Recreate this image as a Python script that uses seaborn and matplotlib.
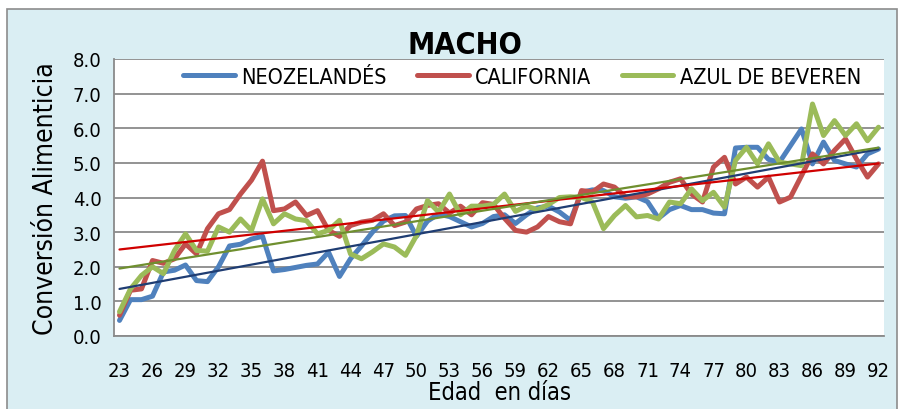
import numpy as np
import pandas as pd
import matplotlib
matplotlib.use("Agg")
import matplotlib.pyplot as plt
import seaborn as sns
from matplotlib.patches import Rectangle
from matplotlib.lines import Line2D
from matplotlib.ticker import FormatStrFormatter

sns.set_style("white")
plt.rcParams['font.family'] = ['Liberation Sans Narrow', 'DejaVu Sans']
plt.rcParams['font.stretch'] = 'condensed'
plt.rcParams['text.color'] = 'black'
plt.rcParams['axes.labelcolor'] = 'black'
plt.rcParams['xtick.color'] = 'black'
plt.rcParams['ytick.color'] = 'black'

# data (conversion per day of age)
days = list(range(23, 93))
neozelandes = [0.45, 1.05, 1.05, 1.15, 1.85, 1.9, 2.05, 1.6, 1.57, 2.0,
               2.6, 2.65, 2.8, 2.88, 1.88, 1.92, 1.98, 2.04, 2.08, 2.42,
               1.72, 2.23, 2.6, 3.0, 3.32, 3.47, 3.48, 2.88, 3.32, 3.52,
               3.45, 3.3, 3.15, 3.25, 3.45, 3.5, 3.25, 3.5, 3.7, 3.75,
               3.58, 3.34, 4.15, 4.22, 4.2, 4.02, 3.98, 4.02, 3.88, 3.4,
               3.65, 3.77, 3.65, 3.65, 3.55, 3.53, 5.43, 5.45, 5.45, 5.1,
               5.02, 5.5, 5.98, 4.97, 5.6, 5.07, 4.97, 4.88, 5.26, 5.4]
california = [0.6, 1.32, 1.36, 2.18, 2.1, 2.23, 2.66, 2.37, 3.1, 3.53,
              3.65, 4.1, 4.5, 5.05, 3.62, 3.67, 3.87, 3.48, 3.62, 3.05,
              2.88, 3.19, 3.29, 3.34, 3.53, 3.19, 3.29, 3.67, 3.77, 3.82,
              3.55, 3.75, 3.5, 3.85, 3.8, 3.4, 3.05, 3.0, 3.15, 3.45,
              3.3, 3.24, 4.2, 4.16, 4.39, 4.3, 4.02, 4.02, 4.1, 4.25,
              4.44, 4.54, 4.1, 3.87, 4.88, 5.16, 4.39, 4.59, 4.3, 4.59,
              3.87, 4.01, 4.63, 5.26, 4.97, 5.36, 5.69, 5.11, 4.59, 4.97]
azul = [0.7, 1.36, 1.75, 2.0, 1.8, 2.47, 2.95, 2.47, 2.45, 3.15,
        3.0, 3.38, 3.05, 3.96, 3.24, 3.53, 3.38, 3.33, 2.95, 3.05,
        3.34, 2.37, 2.23, 2.43, 2.66, 2.57, 2.33, 2.9, 3.91, 3.58,
        4.1, 3.5, 3.75, 3.75, 3.8, 4.1, 3.6, 3.75, 3.65, 3.8,
        4.0, 4.02, 4.0, 3.87, 3.1, 3.48, 3.77, 3.44, 3.48, 3.38,
        3.87, 3.82, 4.25, 3.91, 4.15, 3.72, 5.07, 5.45, 4.97, 5.55,
        5.02, 4.97, 4.92, 6.7, 5.79, 6.22, 5.79, 6.13, 5.64, 6.03]

names = ['NEOZELANDÉS', 'CALIFORNIA', 'AZUL DE BEVEREN']
colors = ['#4f81bd', '#c0504d', '#9bbb59']
trend_colors = ['#1f3d73', '#d00000', '#6f8f2f']

data = pd.DataFrame({'dia': days, names[0]: neozelandes,
                     names[1]: california, names[2]: azul})
long = data.melt(id_vars='dia', var_name='raza', value_name='valor')

fig = plt.figure(figsize=(9, 4.1), dpi=100, facecolor='white')
fig.patches.append(Rectangle((7 / 900, -0.05), 890 / 900, 1 - 10 / 410 + 0.05,
                             transform=fig.transFigure, facecolor='#daeef3',
                             edgecolor='#8c8c8c', lw=1.2, zorder=-10))
ax = fig.add_axes([114 / 900, 1 - 337 / 410, 770 / 900, 277 / 410])
ax.set_zorder(5)
ax.set_facecolor('white')

sns.lineplot(data=long, x='dia', y='valor', hue='raza', hue_order=names,
             palette=colors, lw=3.6, ax=ax, legend=False)

# linear trend lines
for vals, c in zip([neozelandes, california, azul], trend_colors):
    sns.regplot(x=days, y=vals, scatter=False, ci=None, truncate=True,
                color=c, line_kws=dict(lw=1.6), ax=ax)

ax.set_xlim(22.5, 92.5)
ax.set_ylim(0, 8)
ax.set_yticks(range(0, 9))
ax.yaxis.set_major_formatter(FormatStrFormatter('%.1f'))
ax.set_xticks(days[::3])
ax.set_xticks(np.arange(22.5, 93, 1), minor=True)
ax.tick_params(axis='x', which='major', length=0, pad=18, labelsize=14.5)
ax.tick_params(axis='x', which='minor', length=5, color='#8a8a8a', width=1)
ax.tick_params(axis='y', length=5, color='#8a8a8a', width=1, pad=4, labelsize=14.5)

ax.yaxis.grid(True, color='#8a8a8a', lw=1.3)
ax.set_axisbelow(True)
for s in ['top', 'right']:
    ax.spines[s].set_visible(False)
for s in ['left', 'bottom']:
    ax.spines[s].set_color('#8a8a8a')
    ax.spines[s].set_linewidth(1.3)

ax.set_xlabel('Edad  en días', fontsize=17, labelpad=0)
ax.set_ylabel('Conversión Alimenticia', fontsize=19, labelpad=10)

fig.text(465 / 900, 1 - 45 / 410, 'MACHO', ha='center', va='center',
         fontsize=22, fontweight='bold', zorder=10)

handles = [Line2D([0], [0], color=c, lw=3.6) for c in colors]
ax.legend(handles, names, loc='center', bbox_to_anchor=(0.53, 0.935), ncol=3,
          frameon=False, fontsize=15.5, handlelength=2.4, handletextpad=0.3,
          columnspacing=1.4)

fig.savefig('out.png', dpi=100)
